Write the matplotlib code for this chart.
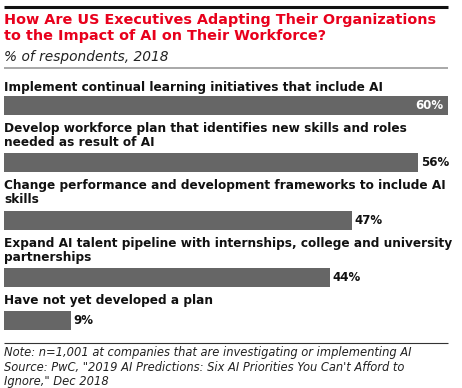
import matplotlib
matplotlib.use("Agg")
import matplotlib.pyplot as plt

categories = [
    "Implement continual learning initiatives that include AI",
    "Develop workforce plan that identifies new skills and roles\nneeded as result of AI",
    "Change performance and development frameworks to include AI\nskills",
    "Expand AI talent pipeline with internships, college and university\npartnerships",
    "Have not yet developed a plan",
]
values = [60, 56, 47, 44, 9]
value_labels = ["60%", "56%", "47%", "44%", "9%"]

title = "How Are US Executives Adapting Their Organizations\nto the Impact of AI on Their Workforce?"
subtitle = "% of respondents, 2018"
note = ("Note: n=1,001 at companies that are investigating or implementing AI\n"
        "Source: PwC, \"2019 AI Predictions: Six AI Priorities You Can't Afford to\n"
        "Ignore,\" Dec 2018")

W, H = 462, 388
fig = plt.figure(figsize=(W / 100, H / 100), dpi=100)

# text/pixel axes
tx = fig.add_axes([0, 0, 1, 1])
tx.set_xlim(0, W)
tx.set_ylim(H, 0)
tx.axis("off")

# bar axes: x in percent, y in pixel rows
ax = fig.add_axes([0, 0, 1, 1])
ax.patch.set_alpha(0)
px_per_pct = 7.4
left = 4
ax.set_xlim(-left / px_per_pct, (W - left) / px_per_pct)
ax.set_ylim(H, 0)
ax.axis("off")

bar_centers = [105, 162.5, 220, 277, 320]
bar_h = 19
label_tops = [81, 122, 179, 237, 294]
bar_color = "#666666"

ax.barh(bar_centers, values, height=bar_h, color=bar_color, left=0)

for i, (c, v, lab) in enumerate(zip(categories, values, value_labels)):
    tx.text(4, label_tops[i], c, fontsize=8.7, fontweight="bold", color="#111111",
            va="top", ha="left", linespacing=1.1, family="DejaVu Sans")
    if i == 0:
        ax.text(v - 0.6, bar_centers[i] + 0.5, lab, color="white", fontsize=8.5,
                fontweight="bold", va="center", ha="right")
    else:
        ax.text(v + 0.4, bar_centers[i] + 0.5, lab, color="#111111", fontsize=8.5,
                fontweight="bold", va="center", ha="left")

# lines
tx.plot([4, 448], [6.5, 6.5], color="#111111", lw=2.2, solid_capstyle="butt")
tx.plot([4, 448], [68, 68], color="#999999", lw=1.2, solid_capstyle="butt")
tx.plot([4, 448], [343, 343], color="#333333", lw=0.8, solid_capstyle="butt")

tx.text(4, 13, title, fontsize=10.4, fontweight="bold", color="#e8001c",
        va="top", ha="left", linespacing=1.2)
tx.text(4, 50, subtitle, fontsize=9.9, style="italic", color="#222222",
        va="top", ha="left")
tx.text(4, 346, note, fontsize=8.3, style="italic", color="#222222",
        va="top", ha="left", linespacing=1.15)

fig.savefig("out.png", dpi=100)
